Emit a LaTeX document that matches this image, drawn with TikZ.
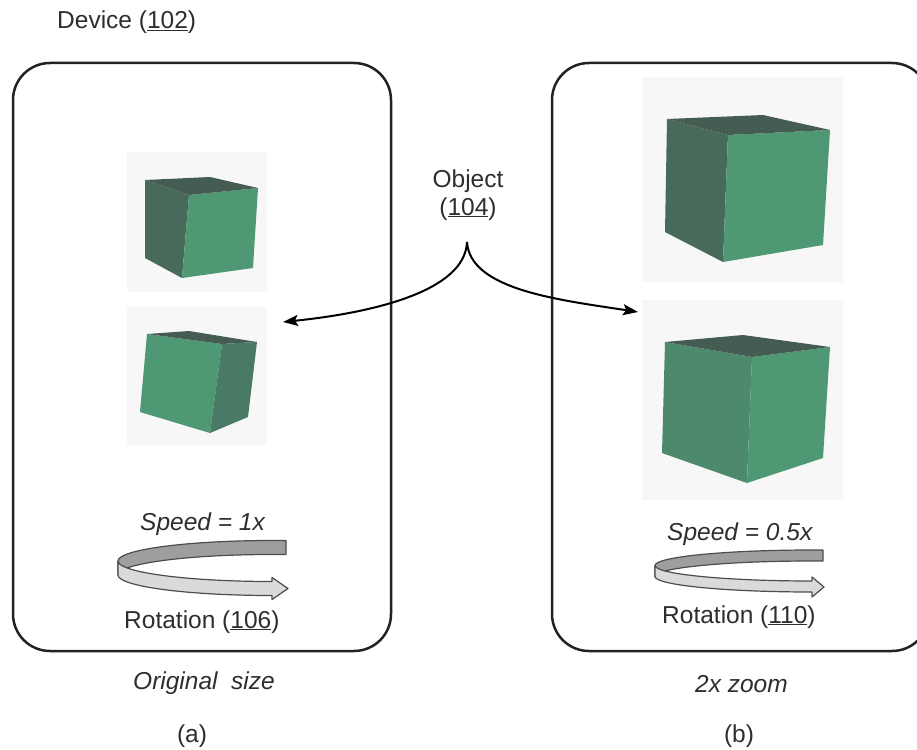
\documentclass[tikz,border=0pt]{standalone}
\usepackage{fontspec}
\setmainfont{Liberation Sans}
\usetikzlibrary{arrows.meta}
\definecolor{txtc}{HTML}{2E2E2E}
\definecolor{boxc}{HTML}{222222}
\definecolor{bgc}{HTML}{F7F7F7}
\definecolor{cdark}{HTML}{476A5B}
\definecolor{cfront}{HTML}{4E9874}
\definecolor{ctop}{HTML}{455C52}
\definecolor{cside}{HTML}{487A65}
\definecolor{cmid}{HTML}{4D8A6C}
\definecolor{rdark}{HTML}{9E9E9E}
\definecolor{rlight}{HTML}{DADADA}
\definecolor{rline}{HTML}{4D4D4D}
\tikzset{
  lbl/.style={text=txtc, font=\fontsize{24.5}{28}\selectfont, inner sep=0pt, anchor=base west},
  ilbl/.style={lbl, font=\fontsize{24.5}{28}\selectfont\itshape},
  devbox/.style={draw=boxc, line width=2.5pt, rounded corners=37pt, inner sep=0pt, outer sep=0pt},
  imgbg/.style={fill=bgc},
  conn/.style={draw=black, line width=2pt, -{Stealth[length=15pt,width=11pt,inset=3pt]}},
  ribdark/.style={fill=rdark, draw=rline, line width=1.2pt, line join=round},
  riblight/.style={fill=rlight, draw=rline, line width=1.2pt, line join=round}
}
\begin{document}
\begin{tikzpicture}[x=1pt,y=-1pt]
\useasboundingbox (0,0) rectangle (917,749);
\clip (0,0) rectangle (917,749);

% device boxes
\node[devbox, minimum width=378pt, minimum height=588pt] (boxa) at (202,357) {};
\node[devbox, minimum width=377pt, minimum height=588pt] (boxb) at (740.5,357) {};

% image backgrounds
\fill[imgbg] (127,152) rectangle (267,292);
\fill[imgbg] (127,307) rectangle (267,445);
\fill[imgbg] (642,77) rectangle (843,282);
\fill[imgbg] (642,300) rectangle (843,500);

% cube (a) top
\fill[cdark]  (145,180) -- (189,195) -- (182,278) -- (145,258) -- cycle;
\fill[cfront] (189,195) -- (258,188) -- (253,268) -- (182,278) -- cycle;
\fill[ctop]   (145,180) -- (210,177) -- (258,188) -- (189,195) -- cycle;
% cube (a) bottom
\fill[cfront] (147,334) -- (222,344) -- (210,433) -- (140,412) -- cycle;
\fill[cside]  (222,344) -- (257,342) -- (248,417) -- (210,433) -- cycle;
\fill[ctop]   (147,334) -- (189,331) -- (257,342) -- (222,344) -- cycle;
% cube (b) top
\fill[cdark]  (667,119) -- (728,135) -- (723,262) -- (665,232) -- cycle;
\fill[cfront] (728,135) -- (830,130) -- (823,245) -- (723,262) -- cycle;
\fill[ctop]   (667,119) -- (763,115) -- (830,130) -- (728,135) -- cycle;
% cube (b) bottom
\fill[cmid]   (665,342) -- (752,357) -- (747,483) -- (662,453) -- cycle;
\fill[cfront] (752,357) -- (830,347) -- (823,458) -- (747,483) -- cycle;
\fill[ctop]   (665,342) -- (743,335) -- (830,347) -- (752,357) -- cycle;

% rotation ribbon (a)
\path[ribdark] (286,540.5) -- (272,540.5)
  arc[start angle=-90, end angle=-180, x radius=154, y radius=20.5]
  -- ++(0,14)
  arc[start angle=-180, end angle=-90, x radius=154, y radius=20.5]
  -- (286,554.5) -- cycle;
\path[riblight] (118,561)
  arc[start angle=180, end angle=90, x radius=154, y radius=20.5]
  -- (272,577.5) -- (288,588.5) -- (272,599.5) -- (272,595.5)
  arc[start angle=90, end angle=180, x radius=154, y radius=20.5]
  -- cycle;

% rotation ribbon (b)
\path[ribdark] (823,550) -- (812,550)
  arc[start angle=-90, end angle=-180, x radius=157, y radius=15.5]
  -- ++(0,11)
  arc[start angle=-180, end angle=-90, x radius=157, y radius=15.5]
  -- (823,561) -- cycle;
\path[riblight] (655,565.5)
  arc[start angle=180, end angle=90, x radius=157, y radius=15.5]
  -- (812,577) -- (824,587) -- (812,597) -- (812,592)
  arc[start angle=90, end angle=180, x radius=157, y radius=15.5]
  -- cycle;

% labels
\node[lbl] (device) at (57,29) {Device (\underline{102})};
\node[lbl, anchor=base] (obj) at (468,187) {Object};
\node[lbl, anchor=base] (objn) at (468,215) {(\underline{104})};
\node[ilbl] (speeda) at (140,530) {Speed = 1x};
\node[lbl] (rota) at (124,628) {Rotation (\underline{106})};
\node[ilbl] (speedb) at (667,540) {Speed = 0.5x};
\node[lbl] (rotb) at (662,623) {Rotation (\underline{110})};
\node[ilbl] (capa) at (133,689) {Original~ size};
\node[ilbl] (capb) at (695,692) {2x zoom};
\node[lbl, anchor=base] (suba) at (192,742) {(a)};
\node[lbl, anchor=base] (subb) at (739,742) {(b)};

% object connectors
\coordinate (apex) at (467,242);
\coordinate (ta) at (283,322);
\coordinate (tb) at (638,312);
\draw[conn] (apex) .. controls (465,292) and (370,313) .. (ta);
\draw[conn] (apex) .. controls (470,290) and (560,300) .. (tb);
\end{tikzpicture}
\end{document}
